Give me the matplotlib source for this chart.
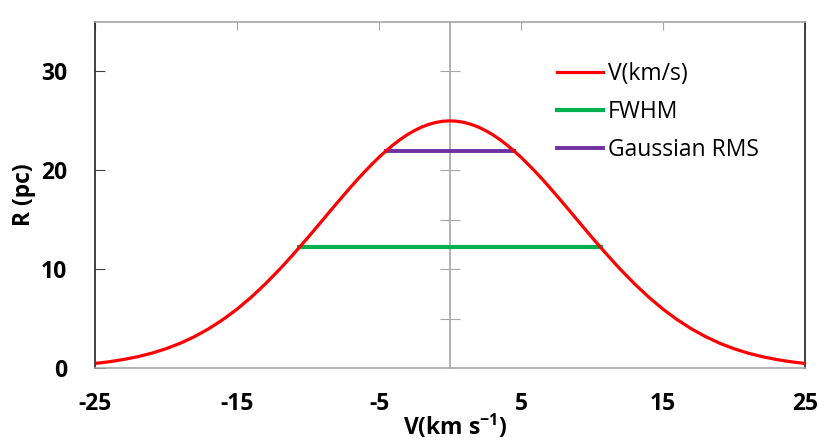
import matplotlib
matplotlib.use("Agg")
import matplotlib.pyplot as plt
import numpy as np

plt.rcParams['font.family'] = ['Open Sans', 'DejaVu Sans']
plt.rcParams['mathtext.fontset'] = 'custom'
plt.rcParams['mathtext.rm'] = 'Open Sans'
plt.rcParams['mathtext.bf'] = 'Open Sans:bold'
plt.rcParams['axes.unicode_minus'] = False

# velocity profile (right half, mirrored)
v_half = [0, 0.5, 1, 1.5, 2, 2.5, 3, 3.5, 4, 4.5, 5, 5.5, 6, 6.5, 7, 7.5,
          8, 8.5, 9, 9.5, 10, 10.5, 11, 11.5, 12, 13, 14, 15, 16, 17, 18,
          19, 20, 21, 22, 23, 24, 25]
r_half = [25.00, 24.96, 24.84, 24.64, 24.37, 24.02, 23.61, 23.12, 22.57,
          21.97, 21.32, 20.61, 19.87, 19.10, 18.29, 17.46, 16.62, 15.77,
          14.91, 14.06, 13.21, 12.38, 11.56, 10.76, 9.98, 8.51, 7.16, 5.95,
          4.89, 3.96, 3.17, 2.50, 1.95, 1.50, 1.14, 0.86, 0.63, 0.46]
v = [-x for x in v_half[:0:-1]] + v_half
r = r_half[:0:-1] + r_half

fwhm_v = [-10.6, 10.6]
fwhm_r = [12.2, 12.2]
rms_v = [-4.5, 4.5]
rms_r = [22.0, 22.0]

xticks = [-25, -15, -5, 5, 15, 25]
yticks = [0, 10, 20, 30]

grey = '#a6a6a6'

fig = plt.figure(figsize=(8.31, 4.48), dpi=100)
ax = fig.add_axes([95/831, 80/448, 710/831, 346/448])

ax.plot(v, r, color='#ff0000', lw=2.3, label='V(km/s)', zorder=4)
ax.plot(fwhm_v, fwhm_r, color='#00b050', lw=3.0, label='FWHM', zorder=3)
ax.plot(rms_v, rms_r, color='#7030a0', lw=2.8, label='Gaussian RMS', zorder=3)

ax.set_xlim(-25, 25)
ax.set_ylim(0, 35)
ax.set_xticks(xticks)
ax.set_yticks(yticks)
ax.tick_params(axis='x', bottom=False, top=True, labelbottom=True,
               direction='in', length=6, color=grey, pad=17, labelsize=16.5)
ax.tick_params(axis='y', direction='in', length=7, color='#404040',
               pad=20, labelsize=16.5)
for lab in ax.get_xticklabels() + ax.get_yticklabels():
    lab.set_fontweight('bold')

ax.spines['left'].set_color('#202020')
ax.spines['right'].set_color('#202020')
ax.spines['top'].set_color(grey)
ax.spines['bottom'].set_color(grey)
for s in ax.spines.values():
    s.set_linewidth(1.2)

# central axis through V = 0 with ticks every 5
ax2 = ax.twinx()
ax2.set_ylim(0, 35)
ax2.spines['left'].set_position(('data', 0))
ax2.spines['left'].set_color(grey)
ax2.spines['left'].set_linewidth(1.2)
for k in ['right', 'top', 'bottom']:
    ax2.spines[k].set_visible(False)
ax2.yaxis.set_ticks_position('left')
ax2.set_yticks([5, 10, 15, 20, 25, 30])
ax2.tick_params(axis='y', direction='inout', length=14, color=grey,
                labelleft=False, labelright=False)
ax2.set_zorder(0)
ax.set_zorder(1)
ax.patch.set_visible(False)

ax.set_xlabel(r'V(km s$^{\mathbf{-1}}$)', fontsize=16.5, fontweight='bold',
              labelpad=0)
ax.xaxis.set_label_coords(0.507, -0.13)
ax.set_ylabel('R (pc)', fontsize=16.5, fontweight='bold')
ax.yaxis.set_label_coords(-0.083, 0.5)

ax.legend(loc='upper left', bbox_to_anchor=(0.651, 0.885), frameon=False,
          fontsize=16.5, handlelength=2.0, handletextpad=0.2, labelspacing=0.62,
          borderaxespad=0, borderpad=0)

fig.savefig('out.png', dpi=100)
